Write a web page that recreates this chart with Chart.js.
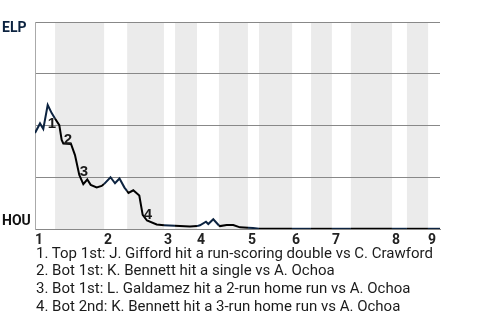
<!DOCTYPE html>
<html>
<head>
<meta charset="utf-8">
<script src="https://cdn.jsdelivr.net/npm/chart.js@4/dist/chart.umd.min.js"></script>
<style>
  html, body { margin: 0; padding: 0; background: #fff; }
  #wrap { position: relative; width: 480px; height: 320px; overflow: hidden; }
  #c { position: absolute; left: 0; top: 0; }
  #notes { position: absolute; left: 36px; top: 244.5px; font: 15px Roboto, sans-serif; line-height: 17.7px; color: #1b1b1b; white-space: nowrap; }
</style>
</head>
<body>
<div id="wrap">
  <canvas id="c" width="480" height="245"></canvas>
  <div id="notes"></div>
</div>
<script>
// ---- data ----
// game progress (plays) and ELP win probability (%)
const progress = [0, 1.35, 2.23, 3.42, 4.49, 5.38, 6.54, 7.18, 7.62, 9.69, 10.76, 11.92, 13.0, 14.07, 14.99, 16.6, 17.95, 18.57, 20.32, 21.53, 22.74, 24.08, 24.76, 25.16, 26.45, 28.07, 28.98, 30.14, 32.75, 34.71, 37.67, 41.71, 43.59, 44.4, 46.02, 46.64, 47.98, 49.51, 49.78, 51.59, 53.36, 55.17, 57.32, 58.66, 60.28, 69.16, 74.27, 79.92, 85.03, 96.07, 100.1, 105.76, 109];
const elpWinPct = [46.4, 51.0, 48.3, 59.9, 56.0, 53.4, 50.2, 43.0, 41.3, 41.1, 35.7, 26.1, 21.7, 23.9, 21.3, 20.1, 20.8, 21.7, 25.0, 22.1, 24.4, 20.0, 18.4, 17.4, 18.7, 16.2, 6.8, 4.1, 2.2, 1.8, 1.6, 1.2, 1.4, 1.8, 3.5, 2.4, 4.7, 1.7, 1.4, 1.9, 1.9, 0.8, 0.6, 0.5, 0.1, 0.1, 0.1, 0.1, 0.1, 0.1, 0.1, 0.1, 0.1];
// half-inning start positions (top 1st, bot 1st, top 2nd, ...) and game end
const halfInningStarts = [0, 5.4, 18.6, 24.8, 34.7, 37.7, 43.6, 49.5, 57.3, 60.3, 69.2, 74.3, 79.9, 85.0, 96.1, 100.1, 105.8];
const gameEnd = 109;
const inningLabels = ['1', '2', '3', '4', '5', '6', '7', '8', '9'];
const teamTop = 'ELP';
const teamBottom = 'HOU';
// key events: index into the series, and caption
const eventPointIndex = [4, 7, 11, 26];
const eventCaptions = [
  '1. Top 1st: J. Gifford hit a run-scoring double vs C. Crawford',
  '2. Bot 1st: K. Bennett hit a single vs A. Ochoa',
  '3. Bot 1st: L. Galdamez hit a 2-run home run vs A. Ochoa',
  '4. Bot 2nd: K. Bennett hit a 3-run home run vs A. Ochoa'
];

// ---- styles ----
const NAVY = '#0c2340';
const BLACK = '#000000';
const BAND = '#ebebeb';
const labelOffsets = [[-4, 11], [2, 0], [0.5, -3], [1, 0]];

document.getElementById('notes').innerHTML = eventCaptions.map(t => '<div>' + t + '</div>').join('');

const points = progress.map((x, i) => ({ x: x, y: elpWinPct[i] }));
const inningStarts = halfInningStarts.filter((v, i) => i % 2 === 0);

function halfIndex(x) {
  let idx = 0;
  for (let i = 0; i < halfInningStarts.length; i++) if (x >= halfInningStarts[i]) idx = i;
  return idx;
}

const bandsPlugin = {
  id: 'bands',
  beforeDraw(chart) {
    const { ctx, chartArea } = chart;
    const xs = chart.scales.x;
    ctx.save();
    for (let i = 0; i < halfInningStarts.length; i++) {
      if (i % 2 === 1) {
        const a = xs.getPixelForValue(halfInningStarts[i]);
        const b = xs.getPixelForValue(i + 1 < halfInningStarts.length ? halfInningStarts[i + 1] : gameEnd);
        ctx.fillStyle = BAND;
        ctx.fillRect(a, chartArea.top, b - a, chartArea.bottom - chartArea.top);
      }
    }
    ctx.restore();
  }
};

const labelsPlugin = {
  id: 'labels',
  afterDraw(chart) {
    const { ctx } = chart;
    const xs = chart.scales.x, ys = chart.scales.y;
    ctx.save();
    ctx.font = 'bold 14px Roboto, sans-serif';
    ctx.textAlign = 'left';
    ctx.textBaseline = 'middle';
    ctx.fillStyle = NAVY;
    ctx.fillText(teamTop, 2, ys.getPixelForValue(100) + 6.5);
    ctx.fillStyle = '#111';
    ctx.fillText(teamBottom, 2, ys.getPixelForValue(0) - 8);
    ctx.font = 'bold 15px "Liberation Sans", Arial, sans-serif';
    ctx.fillStyle = '#1a1a1a';
    eventPointIndex.forEach((pi, k) => {
      const px = xs.getPixelForValue(progress[pi]) + labelOffsets[k][0];
      const py = ys.getPixelForValue(elpWinPct[pi]) + labelOffsets[k][1];
      ctx.fillText(String(k + 1), px, py);
    });
    ctx.restore();
  }
};

new Chart(document.getElementById('c'), {
  type: 'line',
  data: {
    datasets: [{
      data: points,
      borderWidth: 2,
      pointRadius: 0,
      tension: 0,
      fill: false,
      borderColor: BLACK,
      segment: {
        borderColor: c => (halfIndex((c.p0.parsed.x + c.p1.parsed.x) / 2) % 2 === 0 ? NAVY : BLACK)
      }
    }]
  },
  options: {
    responsive: false,
    animation: false,
    layout: { padding: { left: 35, top: 22, right: 40, bottom: 0 } },
    plugins: { legend: { display: false }, tooltip: { enabled: false } },
    scales: {
      x: {
        type: 'linear',
        min: 0,
        max: gameEnd,
        afterFit: s => { s.height = 16; },
        afterBuildTicks: s => { s.ticks = inningStarts.map(v => ({ value: v })); },
        grid: { display: false, drawTicks: false },
        border: { display: true, color: '#888' },
        ticks: {
          align: 'start',
          padding: 3,
          autoSkip: false,
          maxRotation: 0,
          color: '#222',
          font: { family: 'Roboto', weight: 'bold', size: 14 },
          callback: (v, i) => inningLabels[i]
        }
      },
      y: {
        min: 0,
        max: 100,
        afterFit: s => { s.width = 0; },
        ticks: { display: false, stepSize: 25 },
        grid: { color: '#888', drawTicks: false },
        border: { display: true, color: '#aaa' }
      }
    }
  },
  plugins: [bandsPlugin, labelsPlugin]
});
</script>
</body>
</html>
